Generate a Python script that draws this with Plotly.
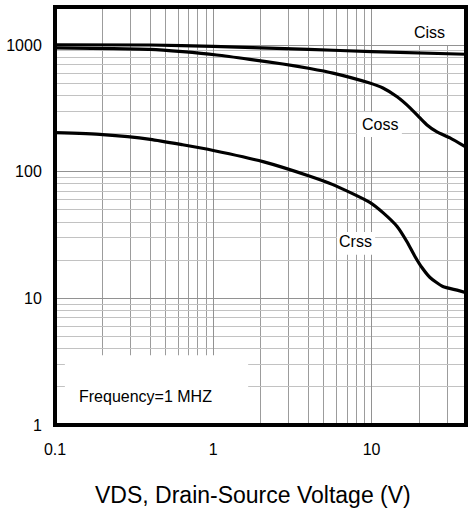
import numpy as np
import plotly.graph_objects as go

# ---- data ----
ciss_v = [0.1, 0.4, 1.0, 4.0, 10.0, 39.5]
ciss_c = [1005, 1000, 975, 925, 885, 845]

coss_v = [0.1, 0.4, 0.64, 1.05, 1.7, 2.75, 4.08, 5.7, 9.5, 11.8, 14.5, 17.5,
          20.2, 22.4, 25.9, 31.3, 39.5]
coss_c = [950, 925, 886, 834, 771, 708, 652, 600, 505, 458, 390, 319,
          266, 234, 206, 185, 156]

crss_v = [0.1, 0.2, 0.4, 0.64, 1.0, 2.06, 4.08, 5.7, 9.8, 11.8, 14.5, 16.7,
          18.8, 20.8, 23.4, 28.2, 34.7, 39.5]
crss_c = [203, 196, 180, 163, 147, 120, 92, 79, 57, 47.5, 36.9, 28.1,
          21.4, 17.5, 14.6, 12.4, 11.6, 11.1]

x_tickvals = [0.1, 1, 10]
x_ticktext = ["0.1", "1", "10"]
y_tickvals = [1, 10, 100, 1000]
y_ticktext = ["1", "10", "100", "1000"]

x_title = "VDS, Drain-Source Voltage (V)"
note_text = "Frequency=1 MHZ"

FONT = "Arial, Liberation Sans, sans-serif"

fig = go.Figure()
for xs, ys, name in [(ciss_v, ciss_c, "Ciss"), (coss_v, coss_c, "Coss"), (crss_v, crss_c, "Crss")]:
    fig.add_trace(go.Scatter(x=xs, y=ys, mode="lines", name=name,
                             line=dict(color="black", width=3.2, shape="spline", smoothing=0.6),
                             showlegend=False, hoverinfo="skip"))

# white label boxes (paper coords)
boxes = [
    (0.864, 0.966, 0.909, 1.0),     # Ciss
    (0.735, 0.844, 0.689, 0.749),   # Coss
    (0.686, 0.779, 0.407, 0.462),   # Crss
    (0.024, 0.470, 0.0, 0.167),     # Frequency
]
shapes = []
for x0, x1, y0, y1 in boxes:
    shapes.append(dict(type="rect", xref="paper", yref="paper", x0=x0, x1=x1, y0=y0, y1=y1,
                       fillcolor="white", line=dict(width=0), layer="above"))
# border
shapes.append(dict(type="rect", xref="paper", yref="paper", x0=0, x1=1, y0=0, y1=1,
                   line=dict(color="black", width=4), layer="above"))

labels = [
    ("Ciss", 0.912, 0.940),
    ("Coss", 0.791, 0.718),
    ("Crss", 0.732, 0.438),
]
annotations = []
for t, x, y in labels:
    annotations.append(dict(text=t, x=x, y=y, xref="paper", yref="paper", showarrow=False,
                            xanchor="center", yanchor="middle", font=dict(size=16, color="black", family=FONT)))
annotations.append(dict(text=note_text, x=0.0535, y=0.067, xref="paper", yref="paper", showarrow=False,
                        xanchor="left", yanchor="middle", font=dict(size=16, color="black", family=FONT)))
annotations.append(dict(text=x_title, x=0.482, y=-0.167, xref="paper", yref="paper", showarrow=False,
                        xanchor="center", yanchor="middle", font=dict(size=23, color="black", family=FONT)))

fig.update_layout(
    width=468, height=510,
    margin=dict(l=55, r=2, t=7, b=85, autoexpand=False),
    paper_bgcolor="white", plot_bgcolor="white",
    font=dict(family=FONT, color="black"),
    shapes=shapes, annotations=annotations,
)
fig.update_xaxes(
    type="log", range=[-1, np.log10(39.5)], automargin=False,
    tickmode="array", tickvals=x_tickvals, ticktext=x_ticktext,
    tickfont=dict(size=16, family=FONT, color="black"),
    ticks="outside", ticklen=10, tickcolor="rgba(0,0,0,0)",
    showline=False, zeroline=False,
    showgrid=True, gridcolor="#929292", gridwidth=1,
    minor=dict(dtick="D1", showgrid=True, gridcolor="#9c9c9c", gridwidth=1, ticks=""),
)
fig.update_yaxes(
    type="log", range=[0, 3.3], automargin=False,
    tickmode="array", tickvals=y_tickvals, ticktext=y_ticktext,
    tickfont=dict(size=16, family=FONT, color="black"),
    ticks="outside", ticklen=9, tickcolor="rgba(0,0,0,0)",
    showline=False, zeroline=False,
    showgrid=True, gridcolor="#929292", gridwidth=1,
    minor=dict(dtick="D1", showgrid=True, gridcolor="#c2c2c2", gridwidth=1, ticks=""),
)

fig.write_html("out.html", config={"displayModeBar": False},
               post_script="document.body.style.margin='0';document.body.style.padding='0';")
